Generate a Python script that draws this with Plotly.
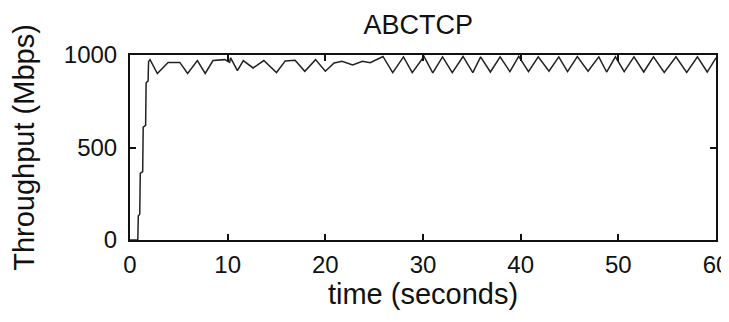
import plotly.graph_objects as go

time_s = [0, 0.8, 0.85, 1.0, 1.05, 1.3, 1.35, 1.6, 1.65, 1.85, 1.9, 2.05,
          2.8, 3.9, 5.1, 5.9, 6.9, 7.7, 8.5, 9.7, 10.2, 10.3, 11.0, 11.6,
          12.6, 13.7, 15.0, 15.9, 16.9, 17.9, 19.0, 20.0, 20.9, 21.7, 22.8,
          23.8, 24.6, 25.9, 26.9, 28.0, 28.9, 30.1, 31.0, 32.0, 33.0, 34.1,
          35.1, 35.9, 36.9, 37.9, 38.9, 39.8, 40.8, 41.8, 42.9, 43.9, 44.8,
          45.8, 46.9, 48.0, 48.8, 49.7, 50.6, 51.6, 52.6, 53.6, 54.7, 55.9,
          57.0, 58.1, 59.1, 60.0]
throughput = [0, 0, 130, 140, 360, 370, 610, 620, 850, 860, 965, 975,
              900, 960, 960, 900, 970, 900, 970, 975, 960, 985, 915, 970,
              930, 970, 905, 968, 972, 912, 975, 912, 957, 966, 946,
              966, 958, 992, 905, 990, 905, 992, 903, 990, 905, 992,
              905, 990, 908, 990, 910, 993, 910, 990, 912, 990, 910,
              992, 912, 990, 908, 990, 910, 990, 908, 990, 906, 990,
              906, 990, 908, 985]

x_ticks = [0, 10, 20, 30, 40, 50, 60]
y_ticks = [0, 500, 1000]

font_family = "Liberation Sans, Arial, sans-serif"

fig = go.Figure()
fig.add_trace(go.Scatter(x=time_s, y=throughput, mode="lines",
                         line=dict(color="#222222", width=1.5),
                         showlegend=False, hoverinfo="skip", cliponaxis=False))

axis_common = dict(showgrid=False, zeroline=False, showline=True,
                   linecolor="#111111", linewidth=2, mirror="allticks",
                   ticks="inside", ticklen=6, tickwidth=1.5,
                   tickcolor="#111111", automargin=False,
                   ticklabeloverflow="allow",
                   tickfont=dict(family=font_family, size=24, color="#111111"))

# page body adds an 8px offset, so the figure is 8px smaller than the window
fig.update_layout(
    width=721, height=314,
    margin=dict(l=122, r=13, t=47, b=82),
    paper_bgcolor="white", plot_bgcolor="white",
    title=dict(text="ABCTCP", x=0.569, xanchor="center", y=0.978,
               yanchor="top", automargin=False,
               font=dict(family=font_family, size=27, color="#111111")),
    xaxis=dict(range=[0, 60], tickvals=x_ticks, ticklabelstandoff=2,
               title=dict(text="time (seconds)", standoff=6,
                          font=dict(family=font_family, size=29,
                                    color="#111111")),
               **axis_common),
    yaxis=dict(range=[0, 1000], tickvals=y_ticks, ticklabelstandoff=6,
               title=dict(text="Throughput (Mbps)", standoff=24,
                          font=dict(family=font_family, size=29,
                                    color="#111111")),
               **axis_common),
)

fig.write_html("out.html")
